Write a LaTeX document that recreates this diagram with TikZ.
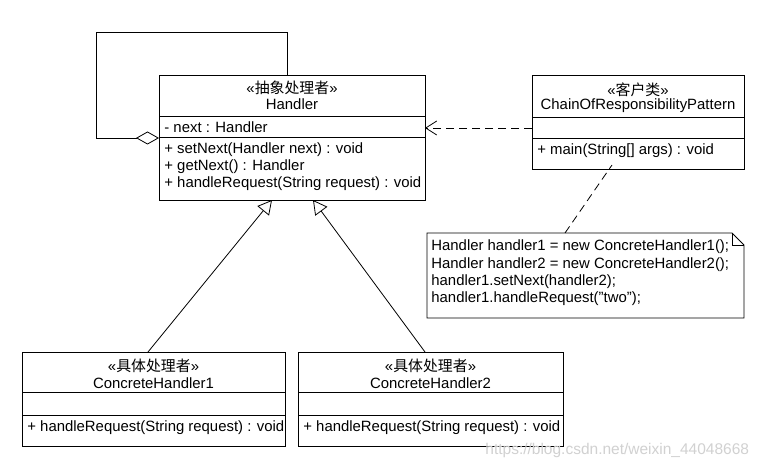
\documentclass[tikz,border=0pt]{standalone}
\usepackage{fontspec}
\setmainfont{Liberation Sans}
\newfontfamily\cjk{Noto Sans CJK SC}
\usetikzlibrary{arrows.meta,calc}
\begin{document}
\begin{tikzpicture}[x=1pt,y=-1pt,
  font=\fontsize{14.9}{17}\selectfont,
  line width=0.8pt,
  umlbox/.style={draw, anchor=north west, inner sep=0pt, fill=white},
  txt/.style={inner sep=0pt, anchor=west},
  ctxt/.style={inner sep=0pt, anchor=center},
  depline/.style={dash pattern=on 8pt off 5pt},
  inherit/.style={-{Triangle[open,length=14pt,width=15pt]}},
  agg/.style={-{Diamond[open,length=23pt,width=13pt]}}]
\useasboundingbox (0,0) rectangle (766,468);
\fill[white] (0,0) rectangle (766,468);

% Handler
\node[umlbox, minimum width=266pt, minimum height=125pt] (h) at (159,75) {};
\draw (159,116) -- (425,116);
\draw (159,137) -- (425,137);
\node[ctxt] (hs) at (292,88) {«{\cjk 抽象处理者}»};
\node[ctxt] (hn) at (292,104) {Handler};
\node[txt] (ha) at (164,127) {- next : Handler};
\node[txt] (hm1) at (164,150) {+ setNext(Handler next) : void};
\node[txt] (hm2) at (164,167) {+ getNext() : Handler};
\node[txt] (hm3) at (164,184) {+ handleRequest(String request) : void};

% Client
\node[umlbox, minimum width=212pt, minimum height=94pt] (c) at (532,75) {};
\draw (532,117) -- (744,117);
\draw (532,138) -- (744,138);
\node[ctxt] (cs) at (638,90) {«{\cjk 客户类}»};
\node[ctxt] (cn) at (638,106) {ChainOfResponsibilityPattern};
\node[txt] (cm) at (537,151) {+ main(String[] args) : void};

% Note
\coordinate (note) at (427,233);
\draw (427,233) -- (732,233) -- (744,245) -- (744,318) -- (427,318) -- cycle;
\draw (732,233) -- (732,245) -- (744,245);
\node[txt] (n1) at (431,247) {Handler handler1 = new ConcreteHandler1();};
\node[txt] (n2) at (431,265) {Handler handler2 = new ConcreteHandler2();};
\node[txt] (n3) at (431,282) {handler1.setNext(handler2);};
\node[txt] (n4) at (431,299) {handler1.handleRequest(\symbol{34}two\symbol{34});};

% ConcreteHandler1
\node[umlbox, minimum width=263pt, minimum height=94pt] (c1) at (22,352) {};
\draw (22,392) -- (285,392);
\draw (22,415) -- (285,415);
\node[ctxt] (c1s) at (153.5,366) {«{\cjk 具体处理者}»};
\node[ctxt] (c1n) at (153.5,383) {ConcreteHandler1};
\node[txt] (c1m) at (27,428) {+ handleRequest(String request) : void};

% ConcreteHandler2
\node[umlbox, minimum width=265pt, minimum height=94pt] (c2) at (298,352) {};
\draw (298,392) -- (563,392);
\draw (298,415) -- (563,415);
\node[ctxt] (c2s) at (430.5,366) {«{\cjk 具体处理者}»};
\node[ctxt] (c2n) at (430.5,383) {ConcreteHandler2};
\node[txt] (c2m) at (303,428) {+ handleRequest(String request) : void};

% connectors
\coordinate (loopstart) at (287,75);
\coordinate (aggend) at (159,138);
\draw[agg] (loopstart) -- (287,32) -- (96,32) -- (96,138) -- (aggend);
\coordinate (depfrom) at (532,128);
\coordinate (depto) at (425,128);
\draw[depline, -{Straight Barb[length=11pt,width=14pt]}] (depfrom) -- (depto);
\coordinate (notetop) at (565,233);
\coordinate (clientlink) at (612,165);
\draw[depline] (notetop) -- (clientlink);
\coordinate (c1top) at (148,352);
\coordinate (h1bot) at (272,200);
\draw[inherit] (c1top) -- (h1bot);
\coordinate (c2top) at (425,352);
\coordinate (h2bot) at (313,200);
\draw[inherit] (c2top) -- (h2bot);

% watermark
\node[txt, text=black!18, font=\fontsize{15.5}{17}\selectfont] (wm) at (485,450) {https://blog.csdn.net/weixin\_44048668};
\end{tikzpicture}
\end{document}
